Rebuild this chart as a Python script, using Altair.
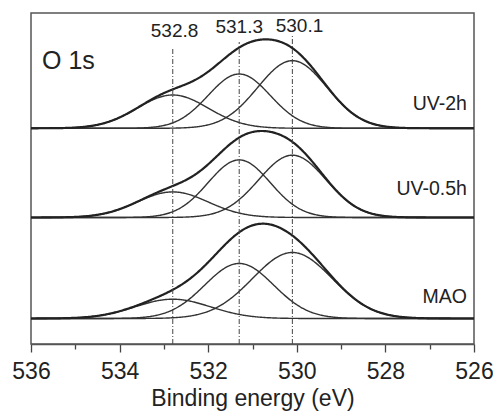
import altair as alt
import numpy as np
import pandas as pd

# ---- values ----
samples = ["MAO", "UV-0.5h", "UV-2h"]
baselines = [25.5, 126.5, 215.7]          # vertical offset of each spectrum
centers = [532.8, 531.3, 530.1]           # component positions (eV)
heights = {                               # component heights per sample
    "MAO": [19.3, 55.0, 66.0],
    "UV-0.5h": [25.6, 57.6, 62.3],
    "UV-2h": [33.3, 54.3, 67.6],
}
sigmas = {                                # component widths (eV)
    "MAO": [0.85, 0.78, 0.90],
    "UV-0.5h": [0.80, 0.70, 0.76],
    "UV-2h": [0.80, 0.70, 0.78],
}
peak_labels = ["532.8", "531.3", "530.1"]
peak_label_x = [532.76, 531.30, 529.94]
peak_label_y = [307, 311, 312]
line_top = [297, 302, 308]
sample_label_y = [41, 149, 234]
sample_label_x = 526.16
x_ticks = list(range(526, 537))

# ---- build curve table (Gaussian fit components + envelope) ----
be = np.linspace(526, 536, 501)
rows = []
for s, base in zip(samples, baselines):
    total = np.zeros_like(be)
    for i, (c, h, w) in enumerate(zip(centers, heights[s], sigmas[s])):
        comp = h * np.exp(-((be - c) ** 2) / (2 * w ** 2))
        total += comp
        for e, v in zip(be, comp):
            rows.append({"sample": s, "series": f"{s}-c{i}", "kind": "comp", "be": e, "val": base + v})
    for e, v in zip(be, total):
        rows.append({"sample": s, "series": f"{s}-env", "kind": "env", "be": e, "val": base + v})
df = pd.DataFrame(rows)

xscale = alt.Scale(domain=[526, 536], reverse=True, nice=False)
yscale = alt.Scale(domain=[0, 331], nice=False, zero=False)
FONT = "Liberation Sans"

xaxis = alt.Axis(
    values=x_ticks,
    format="d",
    labelExpr="datum.value % 2 == 0 ? datum.label : ''",
    tickSize={"condition": {"test": "datum.value % 2 == 0", "value": 8}, "value": 5},
    tickWidth=1.3,
    tickColor="#444",
    domainColor="#555",
    domainWidth=1.5,
    labelFontSize=23,
    labelFont=FONT,
    labelColor="#222",
    labelPadding=8,
    labelFlush=False,
    grid=False,
    title="Binding energy (eV)",
    titleFontSize=23,
    titleFont=FONT,
    titleFontWeight="normal",
    titleColor="#222",
    titlePadding=4,
)

comps = alt.Chart(df[df.kind == "comp"]).mark_line(color="#333", strokeWidth=1.4).encode(
    x=alt.X("be:Q", scale=xscale, axis=xaxis),
    y=alt.Y("val:Q", scale=yscale, axis=None),
    detail="series:N",
    order="be:Q",
)
env = alt.Chart(df[df.kind == "env"]).mark_line(color="#222", strokeWidth=2.2).encode(
    x=alt.X("be:Q", scale=xscale),
    y=alt.Y("val:Q", scale=yscale),
    detail="series:N",
    order="be:Q",
)

rules_df = pd.DataFrame({"be": centers, "y0": [0, 0, 0], "y1": line_top})
rules = alt.Chart(rules_df).mark_rule(color="#444", strokeWidth=1, strokeDash=[5, 2, 1, 2]).encode(
    x=alt.X("be:Q", scale=xscale),
    y=alt.Y("y0:Q", scale=yscale),
    y2="y1:Q",
)

plab_df = pd.DataFrame({"be": peak_label_x, "y": peak_label_y, "t": peak_labels})
plab = alt.Chart(plab_df).mark_text(fontSize=19, font=FONT, color="#222", baseline="alphabetic", align="center").encode(
    x=alt.X("be:Q", scale=xscale),
    y=alt.Y("y:Q", scale=yscale),
    text="t:N",
)

slab_df = pd.DataFrame({"be": [sample_label_x] * 3, "y": sample_label_y, "t": samples})
slab = alt.Chart(slab_df).mark_text(fontSize=19.5, font=FONT, color="#222", baseline="alphabetic", align="right").encode(
    x=alt.X("be:Q", scale=xscale),
    y=alt.Y("y:Q", scale=yscale),
    text="t:N",
)

o_df = pd.DataFrame({"be": [535.75], "y": [275], "t": ["O 1s"]})
olab = alt.Chart(o_df).mark_text(fontSize=25, font=FONT, color="#222", baseline="alphabetic", align="left").encode(
    x=alt.X("be:Q", scale=xscale),
    y=alt.Y("y:Q", scale=yscale),
    text="t:N",
)

chart = (
    alt.layer(comps, env, rules, plab, slab, olab)
    .properties(
        width=443,
        height=331,
        autosize=alt.AutoSizeParams(type="none"),
        padding={"left": 23, "top": 5, "right": 19, "bottom": 67},
    )
    .configure_view(stroke="#555", strokeWidth=1.5)
)

chart.save("out.html", embed_options={"renderer": "svg", "actions": False})
